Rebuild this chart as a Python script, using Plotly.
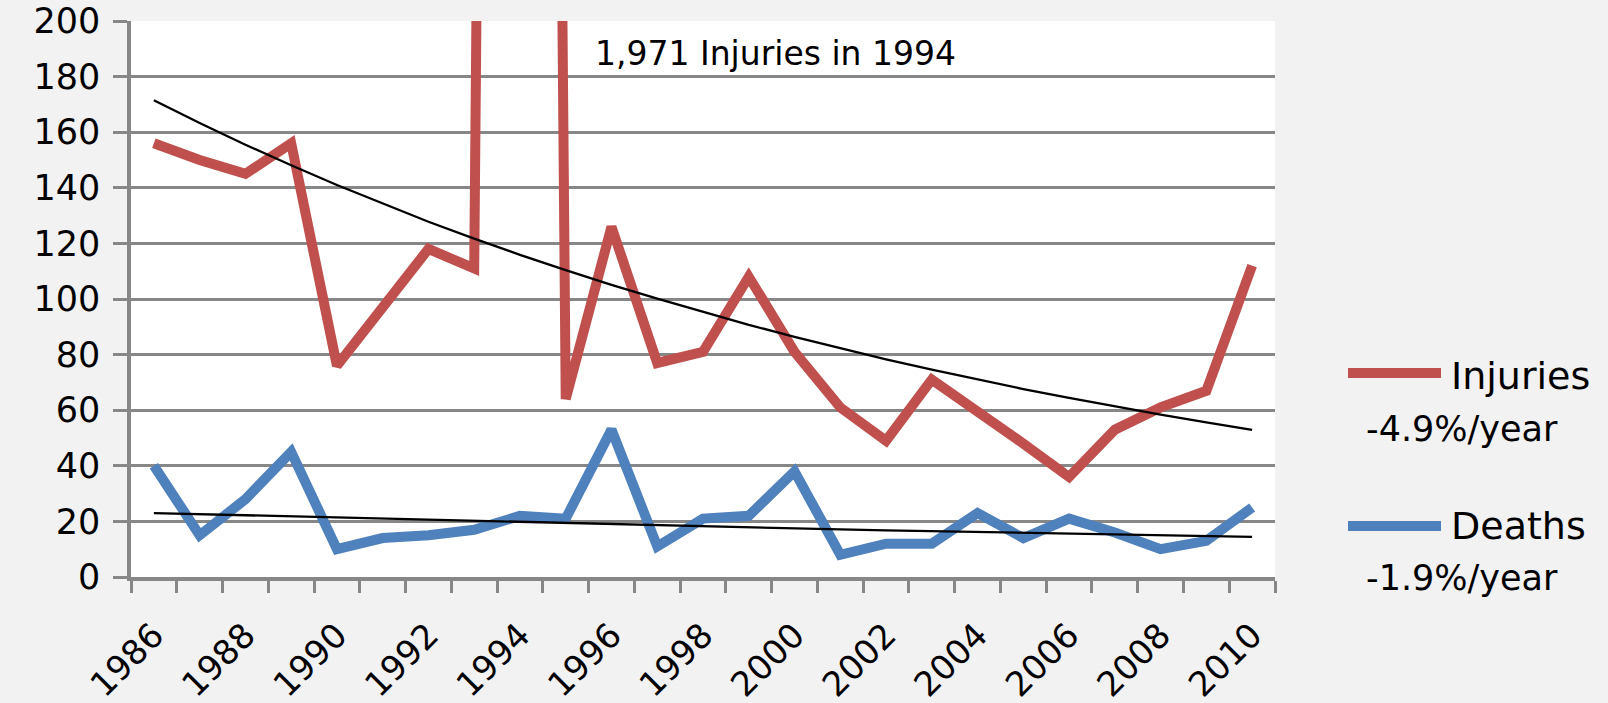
import plotly.graph_objects as go

years = list(range(1986, 2011))
injuries = [156, 150, 145, 156, 76, 97, 118, 111, 1971, 64, 126, 77, 81, 108, 81,
            61, 49, 71, 60, 48, 36, 53, 61, 67, 112]
deaths = [40, 15, 28, 45, 10, 14, 15, 17, 22, 21, 53, 11, 21, 22, 38,
          8, 12, 12, 23, 14, 21, 16, 10, 13, 25]
injuries_trend = [171.5, 163.3, 155.5, 148.1, 141.0, 134.3, 127.8, 121.7, 115.9, 110.4,
                  105.1, 100.1, 95.3, 90.7, 86.4, 82.3, 78.3, 74.6, 71.0, 67.6,
                  64.4, 61.3, 58.4, 55.6, 52.9]
deaths_trend = [23.0, 22.6, 22.1, 21.7, 21.3, 20.9, 20.5, 20.1, 19.7, 19.3,
                18.9, 18.6, 18.2, 17.8, 17.5, 17.1, 16.8, 16.5, 16.2, 15.8,
                15.5, 15.2, 14.9, 14.6, 14.4]
y_ticks = list(range(0, 201, 20))
x_label_years = list(range(1986, 2011, 2))
series_names = ["Injuries", "Deaths"]
rate_labels = ["-4.9%/year", "-1.9%/year"]
note_text = "1,971 Injuries in 1994"

RED = "#C0504D"
BLUE = "#4F81BD"
GRID = "#878787"
FONT = "DejaVu Sans"

W, H = 1608, 703
L, R, T, B = 131, 1275, 21, 577
PW, PH = R - L, B - T


def px(x):
    return (x - L) / PW


def py(y):
    return (B - y) / PH


fig = go.Figure()
fig.add_trace(go.Scatter(x=years, y=injuries, mode="lines", name=series_names[0],
                         line=dict(color=RED, width=10)))
fig.add_trace(go.Scatter(x=years, y=deaths, mode="lines", name=series_names[1],
                         line=dict(color=BLUE, width=10)))
fig.add_trace(go.Scatter(x=years, y=injuries_trend, mode="lines", showlegend=False,
                         line=dict(color="black", width=2.3)))
fig.add_trace(go.Scatter(x=years, y=deaths_trend, mode="lines", showlegend=False,
                         line=dict(color="black", width=2.3)))

fig.update_layout(
    width=W, height=H,
    autosize=False,
    margin=dict(l=L, r=W - R, t=T, b=H - B, pad=0, autoexpand=False),
    paper_bgcolor="#F2F2F2",
    plot_bgcolor="white",
    showlegend=False,
    font=dict(family=FONT, color="black", size=34),
)

fig.update_xaxes(
    range=[1985.5, 2010.5],
    tickvals=x_label_years,
    ticktext=[str(y) for y in x_label_years],
    ticks="",
    tickangle=-45,
    tickfont=dict(size=34, family=FONT),
    ticklabelstandoff=21,
    ticklabeloverflow="allow",
    automargin=False,
    showline=True, linecolor=GRID, linewidth=3.5,
    showgrid=False, zeroline=False,
    minor=dict(tickvals=[1985.5 + i for i in range(26)], ticks="outside",
               ticklen=12, tickwidth=3, tickcolor=GRID, showgrid=False),
)
fig.update_yaxes(
    range=[0, 200],
    tickvals=y_ticks,
    ticks="outside", ticklen=14, tickwidth=3, tickcolor=GRID,
    tickfont=dict(size=35, family=FONT),
    ticklabelstandoff=6,
    ticklabeloverflow="allow",
    automargin=False,
    showline=True, linecolor=GRID, linewidth=3.5,
    showgrid=True, gridcolor=GRID, gridwidth=2.5,
    zeroline=False,
)

# note for the off-scale 1994 value
fig.add_annotation(x=px(593), y=py(54), xref="paper", yref="paper",
                   text=note_text, showarrow=False, xanchor="left", yanchor="middle",
                   font=dict(size=33, family=FONT, color="black"))

# manual legend
for i, (name, rate, col) in enumerate(zip(series_names, rate_labels, [RED, BLUE])):
    ly = [373, 526][i]
    ty = [376, 526][i]
    ry = [429, 578][i]
    fig.add_shape(type="line", xref="paper", yref="paper",
                  x0=px(1348), x1=px(1441), y0=py(ly), y1=py(ly),
                  line=dict(color=col, width=10))
    fig.add_annotation(x=px(1449), y=py(ty), xref="paper", yref="paper",
                       text=name, showarrow=False, xanchor="left", yanchor="middle",
                       font=dict(size=38, family=FONT, color="black"))
    fig.add_annotation(x=px(1462), y=py(ry), xref="paper", yref="paper",
                       text=rate, showarrow=False, xanchor="center", yanchor="middle",
                       font=dict(size=35, family=FONT, color="black"))

fig.write_html("out.html", config={"displayModeBar": False},
               post_script="document.body.style.margin='0';")
